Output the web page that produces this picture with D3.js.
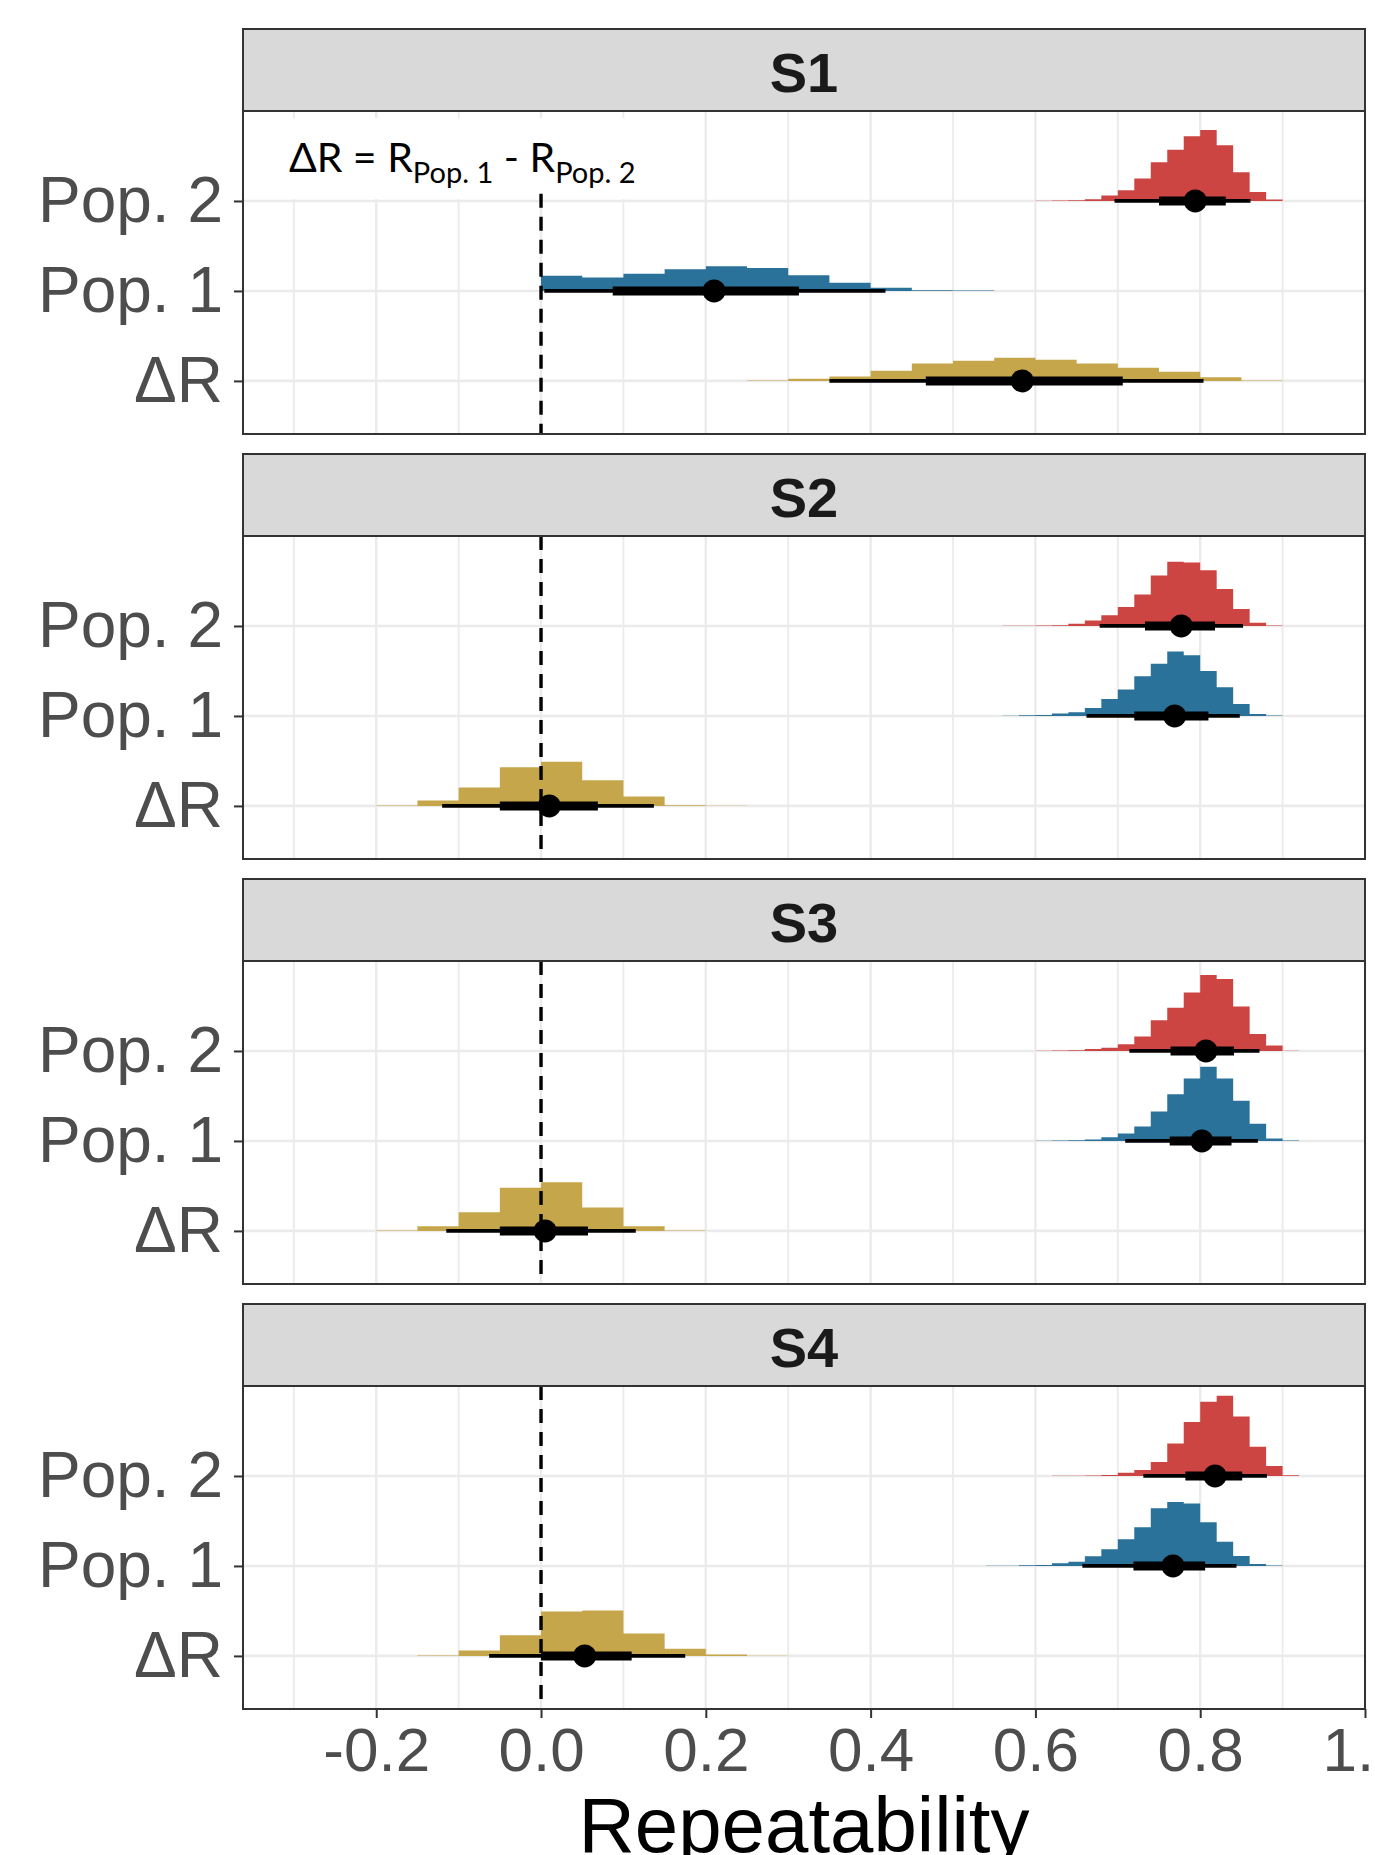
<!DOCTYPE html>
<html>
<head>
<meta charset="utf-8">
<script src="https://cdn.jsdelivr.net/npm/d3@7"></script>
<style>
  body { margin: 0; background: #fff; }
  svg { display: block; font-family: "Liberation Sans", Arial, Helvetica, sans-serif; }
</style>
</head>
<body>
<svg id="chart" width="1375" height="1855"></svg>
<script>
/* categories */
const facets = ["S1", "S2", "S3", "S4"];
const rows = ["ΔR", "Pop. 1", "Pop. 2"];          // bottom to top
const rowColors = ["#c6a64a", "#2a7299", "#cd4543"];
const xTicks = [-0.2, 0, 0.2, 0.4, 0.6, 0.8, 1.0];
const xMinor = [-0.3, -0.1, 0.1, 0.3, 0.5, 0.7, 0.9];

/* posterior histograms: first bin start, bin width, density (in row units) */
const s1Pop2 = { from: 0.60, step: 0.02, dens: [0.002, 0.004, 0.008, 0.02, 0.06, 0.12, 0.25, 0.43, 0.57, 0.72, 0.79, 0.62, 0.32, 0.10, 0.015] };
const s1Pop1 = { from: 0.00, step: 0.05, dens: [0.17, 0.15, 0.19, 0.24, 0.275, 0.255, 0.175, 0.09, 0.035, 0.007, 0.004] };
const s1dR   = { from: 0.25, step: 0.05, dens: [0.006, 0.024, 0.048, 0.112, 0.193, 0.225, 0.258, 0.234, 0.193, 0.145, 0.102, 0.04, 0.006] };

const s2Pop2 = { from: 0.56, step: 0.02, dens: [0.002, 0.003, 0.004, 0.007, 0.025, 0.06, 0.12, 0.21, 0.35, 0.56, 0.715, 0.705, 0.62, 0.41, 0.19, 0.037, 0.004] };
const s2Pop1 = { from: 0.56, step: 0.02, dens: [0.003, 0.007, 0.011, 0.026, 0.04, 0.087, 0.188, 0.295, 0.44, 0.58, 0.717, 0.675, 0.5, 0.318, 0.133, 0.022, 0.004] };
const s2dR   = { from: -0.20, step: 0.05, dens: [0.004, 0.06, 0.205, 0.43, 0.49, 0.285, 0.105, 0.008, 0.002] };

const s3Pop2 = { from: 0.60, step: 0.02, dens: [0.002, 0.004, 0.007, 0.022, 0.037, 0.074, 0.16, 0.342, 0.48, 0.65, 0.844, 0.8, 0.494, 0.19, 0.06, 0.003] };
const s3Pop1 = { from: 0.60, step: 0.02, dens: [0.002, 0.004, 0.007, 0.015, 0.04, 0.082, 0.16, 0.327, 0.52, 0.695, 0.825, 0.695, 0.446, 0.19, 0.026, 0.004] };
const s3dR   = { from: -0.20, step: 0.05, dens: [0.005, 0.052, 0.207, 0.48, 0.54, 0.26, 0.052, 0.005] };

const s4Pop2 = { from: 0.62, step: 0.02, dens: [0.002, 0.003, 0.004, 0.011, 0.037, 0.067, 0.156, 0.36, 0.6, 0.826, 0.893, 0.66, 0.326, 0.11, 0.007] };
const s4Pop1 = { from: 0.54, step: 0.02, dens: [0.002, 0.003, 0.007, 0.011, 0.03, 0.048, 0.107, 0.185, 0.296, 0.43, 0.64, 0.71, 0.693, 0.485, 0.27, 0.11, 0.022, 0.004] };
const s4dR   = { from: -0.15, step: 0.05, dens: [0.006, 0.06, 0.23, 0.493, 0.504, 0.25, 0.08, 0.015, 0.002] };

/* point intervals: [lower 95%, lower 66%, median, upper 66%, upper 95%] */
const s1Pop2Int = [0.696, 0.750, 0.794, 0.831, 0.861];
const s1Pop1Int = [0.004, 0.087, 0.210, 0.313, 0.418];
const s1dRInt   = [0.350, 0.467, 0.584, 0.706, 0.804];
const s2Pop2Int = [0.678, 0.733, 0.777, 0.818, 0.852];
const s2Pop1Int = [0.662, 0.720, 0.769, 0.810, 0.848];
const s2dRInt   = [-0.120, -0.050, 0.010, 0.069, 0.137];
const s3Pop2Int = [0.714, 0.764, 0.807, 0.841, 0.872];
const s3Pop1Int = [0.709, 0.763, 0.802, 0.838, 0.870];
const s3dRInt   = [-0.115, -0.050, 0.005, 0.057, 0.115];
const s4Pop2Int = [0.731, 0.782, 0.818, 0.851, 0.881];
const s4Pop1Int = [0.657, 0.719, 0.767, 0.806, 0.844];
const s4dRInt   = [-0.063, 0.000, 0.053, 0.110, 0.175];

/* table built from the arrays above, rows ordered like `rows` */
const panelSlabs = [
  [s1dR, s1Pop1, s1Pop2],
  [s2dR, s2Pop1, s2Pop2],
  [s3dR, s3Pop1, s3Pop2],
  [s4dR, s4Pop1, s4Pop2]
];
const panelInts = [
  [s1dRInt, s1Pop1Int, s1Pop2Int],
  [s2dRInt, s2Pop1Int, s2Pop2Int],
  [s3dRInt, s3Pop1Int, s3Pop2Int],
  [s4dRInt, s4Pop1Int, s4Pop2Int]
];

/* layout */
const left = 243, right = 1365;
const top0 = 29, facetStep = 425, stripH = 82, panelH = 323;
const grid = "#ebebeb", dark = "#333333";

const svg = d3.select("#chart");
const x = d3.scaleLinear().domain([-0.3617, 1.0]).range([left, right]);

facets.forEach((name, i) => {
  const stripTop = top0 + i * facetStep;
  const pTop = stripTop + stripH, pBot = pTop + panelH;
  const y = d3.scaleLinear().domain([0.41, 4.0]).range([pBot, pTop]);
  const g = svg.append("g");

  g.append("rect").attr("x", left).attr("y", pTop)
    .attr("width", right - left).attr("height", panelH).attr("fill", "#fff");

  /* grid */
  g.selectAll(".vminor").data(xMinor).join("line")
    .attr("x1", d => x(d)).attr("x2", d => x(d))
    .attr("y1", pTop).attr("y2", pBot)
    .attr("stroke", grid).attr("stroke-width", 1.8);
  g.selectAll(".vmajor").data(xTicks).join("line")
    .attr("x1", d => x(d)).attr("x2", d => x(d))
    .attr("y1", pTop).attr("y2", pBot)
    .attr("stroke", grid).attr("stroke-width", 2.4);

  /* annotation box sits under the row gridlines */
  if (i === 0) {
    const ann = g.append("text").attr("class", "ann")
      .attr("x", x(-0.306)).attr("y", y(3.32))
      .attr("font-family", "Lato, 'Open Sans', sans-serif")
      .attr("font-size", 41).attr("fill", "#000");
    ann.append("tspan").text("ΔR = R");
    ann.append("tspan").attr("font-size", 29).attr("dy", 11).text("Pop. 1");
    ann.append("tspan").attr("dy", -11).text(" - R");
    ann.append("tspan").attr("font-size", 29).attr("dy", 11).text("Pop. 2");
    const bb = ann.node().getBBox();
    g.insert("rect", "text.ann")
      .attr("x", bb.x - 30).attr("y", bb.y - 14)
      .attr("width", bb.width + 50).attr("height", bb.height + 24)
      .attr("fill", "#fff");
  }

  g.selectAll(".hmajor").data([1, 2, 3]).join("line")
    .attr("x1", left).attr("x2", right)
    .attr("y1", d => y(d)).attr("y2", d => y(d))
    .attr("stroke", grid).attr("stroke-width", 2.6);

  /* slabs (stepped histograms) */
  panelSlabs[i].forEach((s, r) => {
    const pts = s.dens.map((v, k) => [s.from + k * s.step, v]);
    pts.push([s.from + s.dens.length * s.step, 0]);
    const area = d3.area()
      .curve(d3.curveStepAfter)
      .x(d => x(d[0]))
      .y0(y(r + 1))
      .y1(d => y(r + 1 + d[1]));
    g.append("path").attr("d", area(pts)).attr("fill", rowColors[r]);
  });

  /* zero reference, hidden behind the annotation in the first panel */
  const zTop = i === 0 ? y(3.08) : pTop;
  g.append("line")
    .attr("x1", x(0)).attr("x2", x(0))
    .attr("y1", zTop).attr("y2", pBot)
    .attr("stroke", "#000").attr("stroke-width", 3.4)
    .attr("stroke-dasharray", "14,9");

  /* intervals and medians */
  panelInts[i].forEach((q, r) => {
    const yy = y(r + 1);
    g.append("line").attr("x1", x(q[0])).attr("x2", x(q[4]))
      .attr("y1", yy).attr("y2", yy)
      .attr("stroke", "#000").attr("stroke-width", 3.8);
    g.append("line").attr("x1", x(q[1])).attr("x2", x(q[3]))
      .attr("y1", yy).attr("y2", yy)
      .attr("stroke", "#000").attr("stroke-width", 9);
    g.append("circle").attr("cx", x(q[2])).attr("cy", yy)
      .attr("r", 11.5).attr("fill", "#000");
  });

  /* panel border */
  g.append("rect").attr("x", left).attr("y", pTop)
    .attr("width", right - left).attr("height", panelH)
    .attr("fill", "none").attr("stroke", dark).attr("stroke-width", 2);

  /* strip */
  g.append("rect").attr("x", left).attr("y", stripTop)
    .attr("width", right - left).attr("height", stripH)
    .attr("fill", "#d9d9d9").attr("stroke", dark).attr("stroke-width", 2);
  g.append("text")
    .attr("x", (left + right) / 2).attr("y", stripTop + 63)
    .attr("text-anchor", "middle")
    .attr("font-size", 56).attr("font-weight", "bold").attr("fill", "#1a1a1a")
    .text(name);

  /* y axis */
  const yAxis = d3.axisLeft(y).tickValues([1, 2, 3])
    .tickFormat(d => rows[d - 1]).tickSize(9).tickPadding(11);
  const ya = g.append("g").attr("transform", `translate(${left},0)`).call(yAxis);
  ya.select(".domain").remove();
  ya.selectAll(".tick line").attr("stroke", dark).attr("stroke-width", 2);
  ya.selectAll(".tick text").attr("fill", "#4d4d4d")
    .attr("font-size", 64).attr("font-family", "'Liberation Sans', Arial, sans-serif");

  /* x axis on last panel */
  if (i === facets.length - 1) {
    const xAxis = d3.axisBottom(x).tickValues(xTicks)
      .tickFormat(d => d.toFixed(1)).tickSize(9).tickPadding(9);
    const xa = g.append("g").attr("transform", `translate(0,${pBot})`).call(xAxis);
    xa.select(".domain").remove();
    xa.selectAll(".tick line").attr("stroke", dark).attr("stroke-width", 2);
    xa.selectAll(".tick text").attr("fill", "#4d4d4d")
      .attr("font-size", 62).attr("font-family", "'Liberation Sans', Arial, sans-serif");

    g.append("text")
      .attr("x", (left + right) / 2).attr("y", 1852)
      .attr("text-anchor", "middle")
      .attr("font-size", 78).attr("fill", "#000")
      .text("Repeatability");
  }
});
</script>
</body>
</html>
